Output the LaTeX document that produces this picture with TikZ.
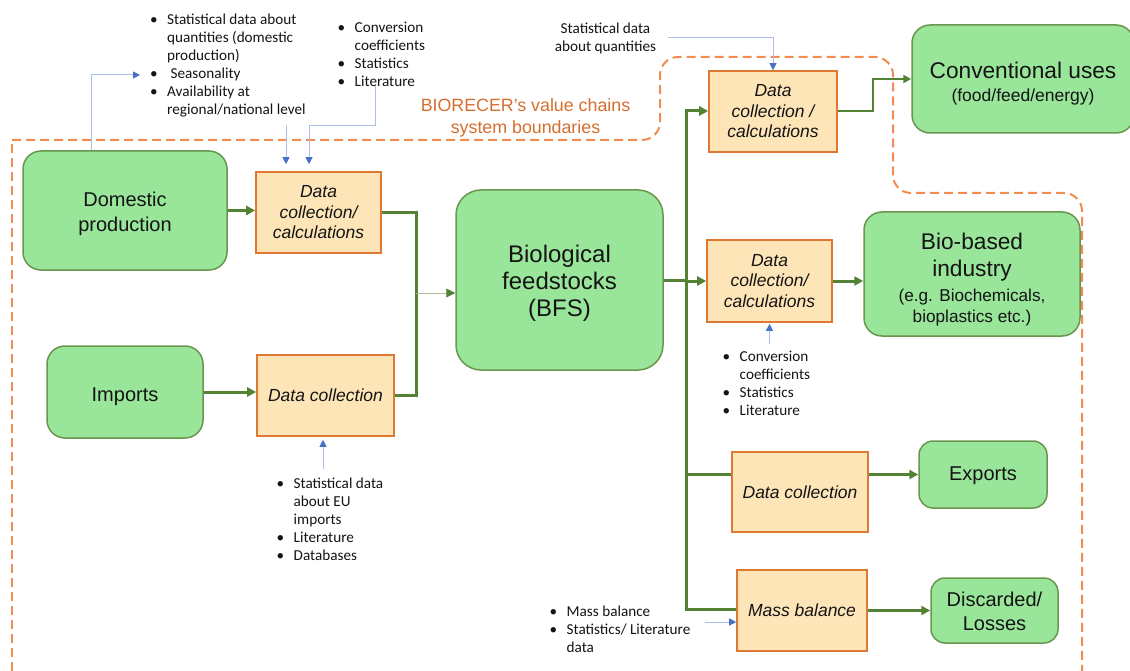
\documentclass[tikz,border=0pt]{standalone}
\usepackage{fontspec}
\setmainfont{Liberation Sans}
\newfontfamily\listfont{Carlito}
\usetikzlibrary{arrows.meta}

\definecolor{boxgreen}{RGB}{153,230,155}
\definecolor{boxgreenline}{RGB}{104,150,78}
\definecolor{boxorange}{RGB}{253,229,184}
\definecolor{boxorangeline}{RGB}{222,120,50}
\definecolor{flowgreen}{RGB}{84,130,53}
\definecolor{feedline}{RGB}{165,190,150}
\definecolor{bounds}{RGB}{242,140,80}
\definecolor{boundstext}{RGB}{214,110,45}
\definecolor{infoline}{RGB}{170,192,232}
\definecolor{infotip}{RGB}{68,114,196}
\definecolor{ink}{RGB}{20,20,20}

% bulleted source lists
\newcommand{\bl}{\makebox[17pt][l]{•}}
\newcommand{\bitems}[1]{{\listfont\fontsize{15.2}{18}\selectfont\begin{tabular}[t]{@{}l@{}l@{}}#1\end{tabular}}}
% invisible strut that lowers a centred text block
\newcommand{\lift}[1]{\rule{0pt}{#1}}

\tikzset{
  gbox/.style={draw=boxgreenline, fill=boxgreen, line width=1.5pt, rounded corners=18pt,
    align=center, text=ink, inner sep=2pt},
  obox/.style={draw=boxorangeline, fill=boxorange, line width=1.6pt, align=center, text=ink,
    font=\fontsize{17.5}{20.5}\selectfont\itshape, inner sep=2pt},
  flow/.style={draw=flowgreen, line width=3pt},
  flowto/.style={flow, -{Triangle[length=9pt,width=9pt]}},
  feed/.style={draw=feedline, line width=1pt,
    -{Triangle[length=9pt,width=9pt,color=flowgreen,fill=flowgreen]}},
  info/.style={draw=infoline, line width=1pt,
    -{Triangle[length=7pt,width=7pt,color=infotip,fill=infotip]}},
  bound/.style={draw=bounds, line width=2pt, dash pattern=on 9pt off 5pt},
  listnode/.style={anchor=north west, inner sep=0pt, text=ink}
}

\begin{document}
\begin{tikzpicture}[x=1pt,y=-1pt]
\useasboundingbox (0,0) rectangle (1130,671);

% system boundary
\draw[bound] (12,671) -- (12,140);
\draw[bound, rounded corners=18pt] (12,140) -- (660,140) -- (660,57) -- (893,57)
  -- (893,193) -- (1082,193) -- (1082,671);
\node[text=boundstext, font=\fontsize{17.8}{22}\selectfont, align=center] (blabel)
  at (525.5,118) {BIORECER’s value chains\\system boundaries};

% boxes
\node[gbox, minimum width=204pt, minimum height=119pt, font=\fontsize{20}{25}\selectfont]
  (dom) at (125,210.5) {\lift{20.3pt}Domestic\\production};
\node[obox, minimum width=125pt, minimum height=81pt] (dc1) at (318.5,212.5)
  {Data\\collection/\\calculations};
\node[gbox, minimum width=156pt, minimum height=92pt, font=\fontsize{20}{25}\selectfont]
  (imp) at (125,392) {\lift{22.3pt}Imports};
\node[obox, minimum width=137pt, minimum height=81pt] (dc2) at (325.5,395.5)
  {Data collection};
\node[gbox, rounded corners=25pt, minimum width=207pt, minimum height=180pt,
  font=\fontsize{24}{27}\selectfont] (bfs) at (559.5,280) {\lift{23.5pt}Biological\\feedstocks\\(BFS)};
\node[obox, minimum width=128pt, minimum height=81pt] (dc3) at (773,111.5)
  {Data\\collection /\\calculations};
\node[gbox, minimum width=222pt, minimum height=108pt, font=\fontsize{22.7}{26}\selectfont]
  (conv) at (1023,79) {\lift{25.5pt}Conventional uses\\[-3pt]{\fontsize{17.5}{23}\selectfont(food/feed/energy)}};
\node[obox, minimum width=125pt, minimum height=82pt] (dc4) at (769.5,281)
  {Data\\collection/\\calculations};
\node[gbox, minimum width=216pt, minimum height=124pt, font=\fontsize{22.7}{27}\selectfont]
  (bio) at (972,274) {\lift{26.6pt}Bio-based\\industry\\[-2pt]{\fontsize{17.2}{21}\selectfont(e.g. Biochemicals,}\\[-6pt]
  {\fontsize{17.2}{21}\selectfont bioplastics etc.)}};
\node[obox, minimum width=136pt, minimum height=80pt] (dc5) at (800,492) {Data collection};
\node[gbox, rounded corners=14pt, minimum width=128pt, minimum height=67pt,
  font=\fontsize{20}{25}\selectfont] (exp) at (983,474.5) {\lift{16pt}Exports};
\node[obox, minimum width=130pt, minimum height=81pt] (mass) at (802,610.5) {Mass balance};
\node[gbox, rounded corners=14pt, minimum width=127pt, minimum height=65pt,
  font=\fontsize{20}{24}\selectfont] (disc) at (994.5,610.5) {\lift{16pt}Discarded/\\Losses};

% source lists
\node[listnode] (l1) at (150,12) {\bitems{\bl & Statistical data about\\ & quantities (domestic\\
  & production)\\ \bl & \ Seasonality\\ \bl & Availability at\\ & regional/national level}};
\node[listnode] (l2) at (337.5,19.4) {\bitems{\bl & Conversion\\ & coefficients\\
  \bl & Statistics\\ \bl & Literature}};
\node[anchor=north, inner sep=0pt, text=ink] (l3) at (605.5,20.4)
  {{\listfont\fontsize{15.2}{18}\selectfont\begin{tabular}[t]{@{}c@{}}Statistical data\\about quantities\end{tabular}}};
\node[listnode] (l4) at (722.5,349) {\bitems{\bl & Conversion\\ & coefficients\\
  \bl & Statistics\\ \bl & Literature}};
\node[listnode] (l5) at (276.5,475.5) {\bitems{\bl & Statistical data\\ & about EU\\
  & imports\\ \bl & Literature\\ \bl & Databases}};
\node[listnode] (l6) at (549.5,604) {\bitems{\bl & Mass balance\\ \bl & Statistics/ Literature\\
  & data}};

% material flows
\coordinate (jn) at (416,293);
\coordinate (ttop) at (686,111);
\coordinate (tbot) at (686,609);
\coordinate (tex) at (686,474);
\coordinate (kk) at (873,95);
\draw[flowto] (dom.east) -- (dom.east -| dc1.west);
\draw[flowto] (imp.east) -- (imp.east -| dc2.west);
\draw[flow] (dc1.east) -| (jn) |- (dc2.east);
\draw[feed] (jn) -- (bfs.west |- jn);
\draw[flow] (bfs.east) -- (bfs.east -| ttop);
\draw[flowto] (tbot -| mass.west) -- (tbot) -- (ttop) -- (ttop -| dc3.west);
\draw[flowto] (dc4.west -| ttop) -- (dc4.west);
\draw[flow] (tex) -- (tex -| dc5.west);
\draw[flowto, line width=2pt, -{Triangle[length=8pt,width=8pt]}] (dc3.east) -| (kk) |- (conv.west);
\draw[flowto] (dc4.east) -- (dc4.east -| bio.west);
\draw[flowto] (dc5.east |- exp.west) -- (exp.west);
\draw[flowto] (mass.east) -- (mass.east -| disc.west);

% information inputs
\coordinate (q1) at (140,75);
\coordinate (q2) at (286,125);
\coordinate (q3) at (375.5,86);
\coordinate (q4) at (309,126);
\coordinate (q5) at (668,38);
\coordinate (q6) at (769.5,344);
\coordinate (q7) at (323,469);
\coordinate (q8) at (705,622);
\draw[info] ([xshift=-34pt]dom.north) |- (q1);
\draw[info, shorten >=7pt] (q2) -- (q2 |- dc1.north);
\draw[info, shorten >=7pt] (q3) |- (q4) -- (q4 |- dc1.north);
\draw[info] (q5) -| (dc3.north);
\draw[info, shorten >=1pt] (q6) -- (dc4.south);
\draw[info, shorten >=3pt] (q7) -- (q7 |- dc2.south);
\draw[info] (q8) -- (q8 -| mass.west);
\end{tikzpicture}
\end{document}
